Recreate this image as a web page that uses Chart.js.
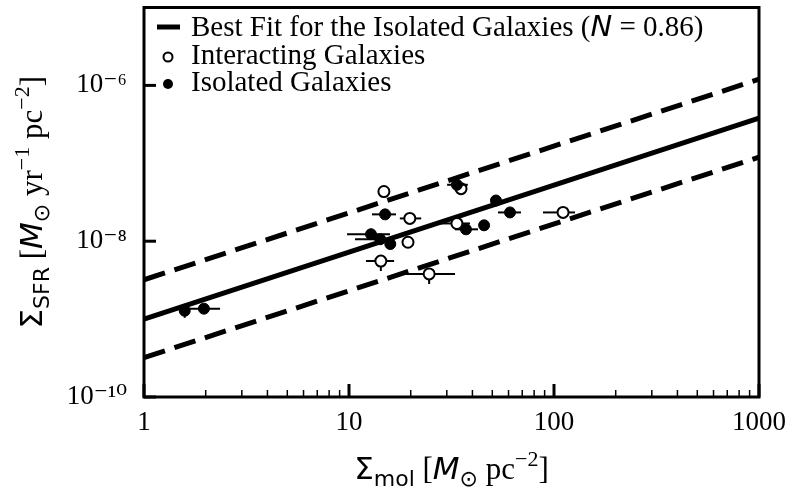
<!DOCTYPE html>
<html>
<head>
<meta charset="utf-8">
<script src="https://cdn.jsdelivr.net/npm/chart.js@4.4.1/dist/chart.umd.min.js"></script>
<style>
  html, body { margin: 0; padding: 0; background: #fff; }
  #wrap { width: 790px; height: 493px; }
</style>
</head>
<body>
<div id="wrap"><canvas id="sfrChart" width="790" height="493"></canvas></div>
<script>
// isolated galaxies (filled markers)
const isoX    = [1.58, 1.96, 15.0, 12.8, 14.2, 15.9, 33.6, 52.1, 61.0, 37.2, 45.6];
const isoY    = [1.28e-9, 1.36e-9, 2.21e-8, 1.23e-8, 1.06e-8, 9.2e-9, 5.3e-8, 3.33e-8, 2.34e-8, 1.42e-8, 1.6e-8];
const isoXLo  = [null, 1.64, 12.95, 9.78, 10.7, null, 30.1, null, 53.3, 32.9, null];
const isoXHi  = [null, 2.35, 16.95, 15.85, 16.2, null, 38.0, null, 69.0, 42.6, null];
const isoYLo  = [1.04e-9, null, null, null, null, null, null, null, null, null, null];

// interacting galaxies (open markers)
const intX    = [14.8, 19.8, 19.4, 14.3, 24.6, 35.2, 33.6, 110.7];
const intY    = [4.34e-8, 1.96e-8, 9.7e-9, 5.56e-9, 3.8e-9, 4.73e-8, 1.69e-8, 2.34e-8];
const intXLo  = [null, 17.7, null, 12.1, 16.95, null, 27.8, 88.4];
const intXHi  = [null, 22.5, null, 16.6, 32.9, null, 38.9, 126.6];
const intYLo  = [null, null, null, 4.15e-9, 2.83e-9, null, null, null];

// best fit (N = 0.86) and the +/- 0.5 dex band
const fitX    = [1, 1000];
const fitY    = [1.0e-9, 3.8e-7];
const upperY  = [3.2e-9, 1.2e-6];
const lowerY  = [3.2e-10, 1.2e-7];

const xMajorTicks  = [1, 10, 100, 1000];
const xTickLabels  = ["1", "10", "100", "1000"];
const yMajorTicks  = [1e-10, 1e-8, 1e-6];
const yTickLabels  = ["10⁻¹⁰", "10⁻⁸", "10⁻⁶"];

const SERIF = "'Liberation Serif', 'DejaVu Serif', serif";
const SANS = "'DejaVu Sans', sans-serif";

function toPoints(xs, ys) {
    return xs.map((x, i) => ({ x: x, y: ys[i] }));
}

// minor ticks 2..9 inside each decade
const xTicks = [];
for (let d = 0; d < xMajorTicks.length - 1; d++) {
    for (let m = 1; m < 10; m++) xTicks.push(xMajorTicks[d] * m);
}
xTicks.push(xMajorTicks[xMajorTicks.length - 1]);

function labelFor(value, ticks, labels) {
    for (let i = 0; i < ticks.length; i++) {
        if (Math.abs(Math.log10(value) - Math.log10(ticks[i])) < 1e-6) return labels[i];
    }
    return "";
}

function drawRuns(ctx, runs, x, y) {
    let total = 0;
    runs.forEach(r => {
        ctx.font = r.font;
        r.w = ctx.measureText(r.text).width;
        total += r.w;
    });
    let cx = x - total / 2;
    runs.forEach(r => {
        ctx.font = r.font;
        ctx.fillText(r.text, cx, y + (r.dy || 0));
        cx += r.w;
    });
}

const errorBars = {
    id: "errorBars",
    beforeDatasetDraw(chart, args) {
        const ds = chart.data.datasets[args.index];
        if (!ds.errors) return;
        const xs = chart.scales.x, ys = chart.scales.y, ctx = chart.ctx;
        const e = ds.errors;
        ctx.save();
        ctx.strokeStyle = "#000";
        ctx.lineWidth = 2;
        e.x.forEach((xv, i) => {
            const px = xs.getPixelForValue(xv);
            const py = ys.getPixelForValue(e.y[i]);
            ctx.beginPath();
            if (e.xLo[i] !== null) {
                ctx.moveTo(xs.getPixelForValue(e.xLo[i]), py);
                ctx.lineTo(xs.getPixelForValue(e.xHi[i]), py);
            }
            if (e.yLo[i] !== null) {
                ctx.moveTo(px, ys.getPixelForValue(e.yLo[i]));
                ctx.lineTo(px, py);
            }
            ctx.stroke();
        });
        ctx.restore();
    }
};

const frameAndText = {
    id: "frameAndText",
    afterDraw(chart) {
        const ctx = chart.ctx;
        const a = chart.chartArea;
        const xs = chart.scales.x, ys = chart.scales.y;
        ctx.save();
        ctx.strokeStyle = "#000";
        ctx.fillStyle = "#000";

        // inward ticks
        xs.ticks.forEach(t => {
            const px = xs.getPixelForValue(t.value);
            const major = xMajorTicks.includes(t.value);
            ctx.lineWidth = major ? 3 : 1.5;
            ctx.beginPath();
            ctx.moveTo(px, a.bottom);
            ctx.lineTo(px, a.bottom - (major ? 13 : 7));
            ctx.stroke();
        });
        ys.ticks.forEach(t => {
            const py = ys.getPixelForValue(t.value);
            ctx.lineWidth = 3;
            ctx.beginPath();
            ctx.moveTo(a.left, py);
            ctx.lineTo(a.left + 12, py);
            ctx.stroke();
        });

        // frame
        ctx.lineWidth = 3;
        ctx.strokeRect(a.left, a.top, a.right - a.left, a.bottom - a.top);

        // legend
        ctx.lineWidth = 5;
        ctx.beginPath();
        ctx.moveTo(157, 27);
        ctx.lineTo(180, 27);
        ctx.stroke();
        ctx.lineWidth = 2;
        ctx.beginPath();
        ctx.arc(168, 57, 4.5, 0, Math.PI * 2);
        ctx.fillStyle = "#fff";
        ctx.fill();
        ctx.stroke();
        ctx.fillStyle = "#000";
        ctx.beginPath();
        ctx.arc(168, 84, 5, 0, Math.PI * 2);
        ctx.fill();

        ctx.textBaseline = "alphabetic";
        ctx.textAlign = "left";
        const lf = 29;
        const legendRows = [
            [{ text: "Best Fit for the Isolated Galaxies (", font: lf + "px " + SERIF },
             { text: "N", font: "italic " + lf + "px " + SANS },
             { text: " = 0.86)", font: lf + "px " + SERIF }],
            [{ text: "Interacting Galaxies", font: lf + "px " + SERIF }],
            [{ text: "Isolated Galaxies", font: lf + "px " + SERIF }]
        ];
        const baselines = [36, 64, 91];
        legendRows.forEach((runs, r) => {
            let cx = 191;
            runs.forEach(run => {
                ctx.font = run.font;
                ctx.fillText(run.text, cx, baselines[r]);
                cx += ctx.measureText(run.text).width;
            });
        });

        // axis titles
        const big = 31, small = 22;
        const xTitle = [
            { text: "Σ", font: big + "px " + SANS },
            { text: "mol", font: small + "px " + SANS, dy: 7 },
            { text: " [", font: big + "px " + SERIF },
            { text: "M", font: "italic " + big + "px " + SANS },
            { text: "⊙", font: small + "px " + SANS, dy: 7 },
            { text: " pc", font: big + "px " + SERIF },
            { text: "−2", font: small + "px " + SERIF, dy: -13 },
            { text: "]", font: big + "px " + SERIF }
        ];
        drawRuns(ctx, xTitle, (a.left + a.right) / 2, 479);

        const yTitle = [
            { text: "Σ", font: big + "px " + SANS },
            { text: "SFR", font: small + "px " + SANS, dy: 7 },
            { text: " [", font: big + "px " + SERIF },
            { text: "M", font: "italic " + big + "px " + SANS },
            { text: "⊙", font: small + "px " + SANS, dy: 7 },
            { text: " yr", font: big + "px " + SERIF },
            { text: "−1", font: small + "px " + SERIF, dy: -13 },
            { text: " pc", font: big + "px " + SERIF },
            { text: "−2", font: small + "px " + SERIF, dy: -13 },
            { text: "]", font: big + "px " + SERIF }
        ];
        ctx.translate(42, (a.top + a.bottom) / 2);
        ctx.rotate(-Math.PI / 2);
        drawRuns(ctx, yTitle, 0, 0);
        ctx.restore();
    }
};

new Chart(document.getElementById("sfrChart"), {
    type: "scatter",
    data: {
        datasets: [
            {
                label: "Isolated Galaxies",
                data: toPoints(isoX, isoY),
                errors: { x: isoX, y: isoY, xLo: isoXLo, xHi: isoXHi, yLo: isoYLo },
                pointRadius: 5.5,
                pointBackgroundColor: "#000",
                pointBorderColor: "#000",
                pointBorderWidth: 1,
                order: 1
            },
            {
                label: "Interacting Galaxies",
                data: toPoints(intX, intY),
                errors: { x: intX, y: intY, xLo: intXLo, xHi: intXHi, yLo: intYLo },
                pointRadius: 5.5,
                pointBackgroundColor: "#fff",
                pointBorderColor: "#000",
                pointBorderWidth: 2,
                order: 2
            },
            {
                label: "Best Fit for the Isolated Galaxies (N = 0.86)",
                data: toPoints(fitX, fitY),
                showLine: true,
                borderColor: "#000",
                borderWidth: 5,
                pointRadius: 0,
                order: 3
            },
            {
                label: "upper",
                data: toPoints(fitX, upperY),
                showLine: true,
                borderColor: "#000",
                borderWidth: 5,
                borderDash: [22, 10],
                pointRadius: 0,
                order: 4
            },
            {
                label: "lower",
                data: toPoints(fitX, lowerY),
                showLine: true,
                borderColor: "#000",
                borderWidth: 5,
                borderDash: [22, 10],
                pointRadius: 0,
                order: 5
            }
        ]
    },
    options: {
        responsive: false,
        animation: false,
        layout: { padding: { left: 0, top: 5, right: 31, bottom: 0 } },
        plugins: {
            legend: { display: false },
            tooltip: { enabled: false }
        },
        scales: {
            x: {
                type: "logarithmic",
                min: 1,
                max: 1000,
                grid: { display: false, drawTicks: false },
                border: { display: false },
                afterBuildTicks: scale => { scale.ticks = xTicks.map(v => ({ value: v })); },
                afterFit: scale => {
                    scale.height = 96;
                    scale.paddingLeft = 0;
                    scale.paddingRight = 0;
                },
                ticks: {
                    autoSkip: false,
                    maxRotation: 0,
                    padding: 10,
                    color: "#000",
                    font: { family: SERIF, size: 27 },
                    callback: v => labelFor(v, xMajorTicks, xTickLabels)
                }
            },
            y: {
                type: "logarithmic",
                min: 1e-10,
                max: 1e-5,
                grid: { display: false, drawTicks: false },
                border: { display: false },
                afterBuildTicks: scale => { scale.ticks = yMajorTicks.map(v => ({ value: v })); },
                afterFit: scale => {
                    scale.width = 144;
                    scale.paddingTop = 0;
                    scale.paddingBottom = 0;
                },
                ticks: {
                    autoSkip: false,
                    padding: 17,
                    color: "#000",
                    font: { family: SERIF, size: 27 },
                    callback: v => labelFor(v, yMajorTicks, yTickLabels)
                }
            }
        }
    },
    plugins: [errorBars, frameAndText]
});
</script>
</body>
</html>
